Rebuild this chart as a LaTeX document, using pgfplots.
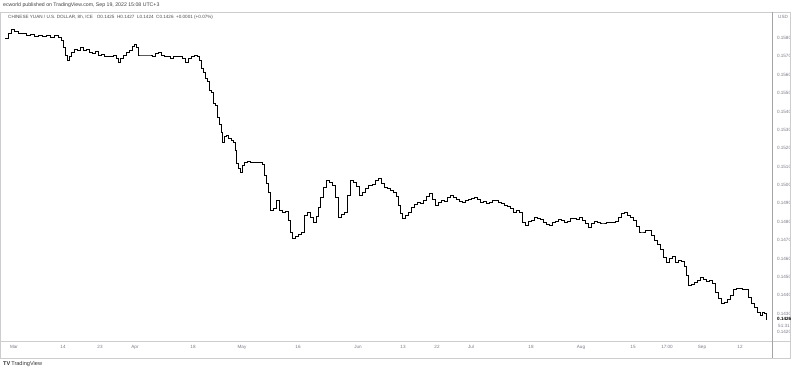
\documentclass[border=0pt]{standalone}
\usepackage{fontspec}
\setmainfont{Liberation Sans}
\usepackage{pgfplots}
\pgfplotsset{compat=1.18}
\definecolor{tvgray}{RGB}{120,123,134}
\definecolor{tvline}{RGB}{205,205,208}
\pgfplotstableread{
x y
5 0.15800
8 0.15827
11 0.15844
14 0.15838
18 0.15827
22 0.15827
26 0.15816
30 0.15822
34 0.15811
38 0.15816
42 0.15811
46 0.15816
50 0.15805
54 0.15816
58 0.15805
61 0.15789
63 0.15746
65 0.15707
67 0.15680
69 0.15697
71 0.15724
74 0.15740
77 0.15735
80 0.15746
83 0.15735
86 0.15740
89 0.15724
92 0.15718
95 0.15729
98 0.15707
101 0.15713
104 0.15702
107 0.15697
110 0.15697
113 0.15707
116 0.15691
118 0.15669
120 0.15691
123 0.15707
126 0.15724
129 0.15735
132 0.15756
134 0.15767
136 0.15751
138 0.15707
140 0.15707
145 0.15707
150 0.15707
152 0.15697
155 0.15718
158 0.15724
161 0.15707
164 0.15702
167 0.15697
170 0.15691
173 0.15697
176 0.15702
179 0.15697
182 0.15691
185 0.15669
188 0.15691
191 0.15697
194 0.15707
197 0.15702
199 0.15680
201 0.15637
203 0.15615
205 0.15582
207 0.15561
209 0.15517
211 0.15506
213 0.15446
215 0.15435
217 0.15370
219 0.15327
221 0.15288
222 0.15234
224 0.15267
226 0.15272
228 0.15256
231 0.15245
233 0.15234
235 0.15190
236 0.15120
238 0.15093
240 0.15071
242 0.15109
244 0.15125
247 0.15131
250 0.15125
255 0.15125
260 0.15125
262 0.15114
264 0.15054
266 0.15011
268 0.14962
270 0.14864
273 0.14875
276 0.14918
279 0.14864
282 0.14853
285 0.14859
288 0.14810
290 0.14744
292 0.14712
295 0.14722
298 0.14733
301 0.14744
304 0.14837
307 0.14853
310 0.14826
313 0.14799
316 0.14831
318 0.14880
320 0.14935
323 0.14989
326 0.15027
329 0.15016
332 0.15000
335 0.14935
338 0.14826
341 0.14842
344 0.14853
347 0.14946
350 0.15027
353 0.15016
356 0.14995
359 0.14946
362 0.14962
365 0.14984
368 0.15000
372 0.15005
375 0.15027
378 0.15038
381 0.15011
384 0.14989
387 0.14984
390 0.14973
393 0.14962
396 0.14940
398 0.14891
400 0.14848
402 0.14820
405 0.14837
408 0.14853
411 0.14880
414 0.14897
417 0.14908
420 0.14902
423 0.14918
426 0.14940
429 0.14957
432 0.14924
435 0.14891
438 0.14908
441 0.14918
444 0.14913
447 0.14935
450 0.14946
453 0.14935
456 0.14924
459 0.14913
462 0.14908
465 0.14918
468 0.14924
471 0.14929
474 0.14935
477 0.14924
480 0.14908
483 0.14913
486 0.14902
489 0.14908
492 0.14918
495 0.14918
498 0.14908
501 0.14902
504 0.14891
507 0.14886
510 0.14875
513 0.14853
516 0.14864
519 0.14853
522 0.14799
525 0.14782
528 0.14804
531 0.14810
534 0.14826
537 0.14820
540 0.14815
543 0.14799
546 0.14788
549 0.14782
552 0.14799
555 0.14804
558 0.14815
561 0.14810
564 0.14799
567 0.14804
570 0.14820
573 0.14820
576 0.14815
579 0.14826
582 0.14810
585 0.14793
588 0.14771
591 0.14793
594 0.14804
597 0.14799
600 0.14793
603 0.14793
606 0.14799
609 0.14799
612 0.14799
615 0.14804
618 0.14826
621 0.14848
624 0.14853
627 0.14837
630 0.14826
633 0.14810
636 0.14777
639 0.14744
642 0.14744
645 0.14755
648 0.14755
651 0.14728
654 0.14701
657 0.14679
660 0.14652
663 0.14608
666 0.14581
669 0.14603
672 0.14614
675 0.14581
678 0.14592
681 0.14586
684 0.14559
686 0.14510
688 0.14456
691 0.14461
694 0.14472
697 0.14483
700 0.14499
703 0.14488
706 0.14478
709 0.14483
712 0.14467
715 0.14418
718 0.14385
721 0.14358
724 0.14363
727 0.14380
730 0.14401
733 0.14434
736 0.14440
739 0.14440
742 0.14434
745 0.14434
748 0.14391
751 0.14358
754 0.14336
757 0.14309
760 0.14293
762 0.14309
764 0.14304
766 0.14265
}\closes
\begin{document}
\begin{tikzpicture}[x=1pt,y=1pt]
\begin{axis}[
  scale only axis, width=769pt, height=329pt,
  xmin=3, xmax=772, ymin=0.14151, ymax=0.15941,
  axis line style={draw=none},
  major tick length=0pt,
  ytick pos=right, yticklabel pos=right,
  ytick={0.142,0.143,0.144,0.145,0.146,0.147,0.148,0.149,0.150,0.151,0.152,0.153,0.154,0.155,0.156,0.157,0.158},
  /pgf/number format/assume math mode=true,
  yticklabel={\pgfmathprintnumber[fixed,fixed zerofill,precision=4]{\tick}},
  yticklabel style={font=\fontsize{4.6}{5.5}\selectfont, text=tvgray, anchor=west, xshift=1.5pt},
  scaled y ticks=false,
  xtick={14,63,100,135,193,242,298,358,403,437,471,531,581,633,667,702,740},
  xticklabels={Mar,14,23,Apr,18,May,16,Jun,13,22,Jul,18,Aug,15,17:00,Sep,12},
  xticklabel style={font=\fontsize{4.6}{5.5}\selectfont, text=tvgray, yshift=-1pt},
  clip=false,
]
\coordinate (SW) at (rel axis cs:0,0);
\addplot[const plot, black, line width=0.7pt] table[x=x,y=y] {\closes};
\end{axis}
\begin{scope}[shift={(SW)}, xshift=-3pt, yshift=-30pt]
% frame
\draw[tvline, line width=0.6pt] (0.5,13) rectangle (790,359);
\draw[tvline, line width=0.6pt] (0.5,30) -- (790,30);
\draw[tvline!80!black, line width=0.6pt] (772,13) -- (772,359);
% header
\node[anchor=west, inner sep=0pt, font=\fontsize{5.2}{6}\selectfont, text=black!75] at (3,366) {ecworld published on TradingView.com, Sep 19, 2022 15:08 UTC+3};
\node[anchor=west, inner sep=0pt, font=\fontsize{4.6}{5.5}\selectfont, text=black!70] at (8,354) {CHINESE YUAN / U.S. DOLLAR, 8h, ICE \ \ O0.1425 \ H0.1427 \ L0.1424 \ C0.1426 \ +0.0001 (+0.07\%)};
\node[anchor=west, inner sep=0pt, font=\fontsize{4.6}{5.5}\selectfont, text=tvgray] at (778,354) {USD};
\node[anchor=west, inner sep=0pt, font=\fontsize{5.6}{6}\selectfont, text=black!80] at (3,7) {\textbf{TV}\,TradingView};
\node[anchor=west, inner sep=0pt, font=\fontsize{4.6}{5.5}\selectfont\bfseries, text=black] at (777,52) {0.1426};
\node[anchor=west, inner sep=0pt, font=\fontsize{4.6}{5.5}\selectfont, text=tvgray] at (778,45.5) {51:31};
\pgfresetboundingbox
\useasboundingbox (0,0) rectangle (800,371);
\end{scope}
\end{tikzpicture}
\end{document}
